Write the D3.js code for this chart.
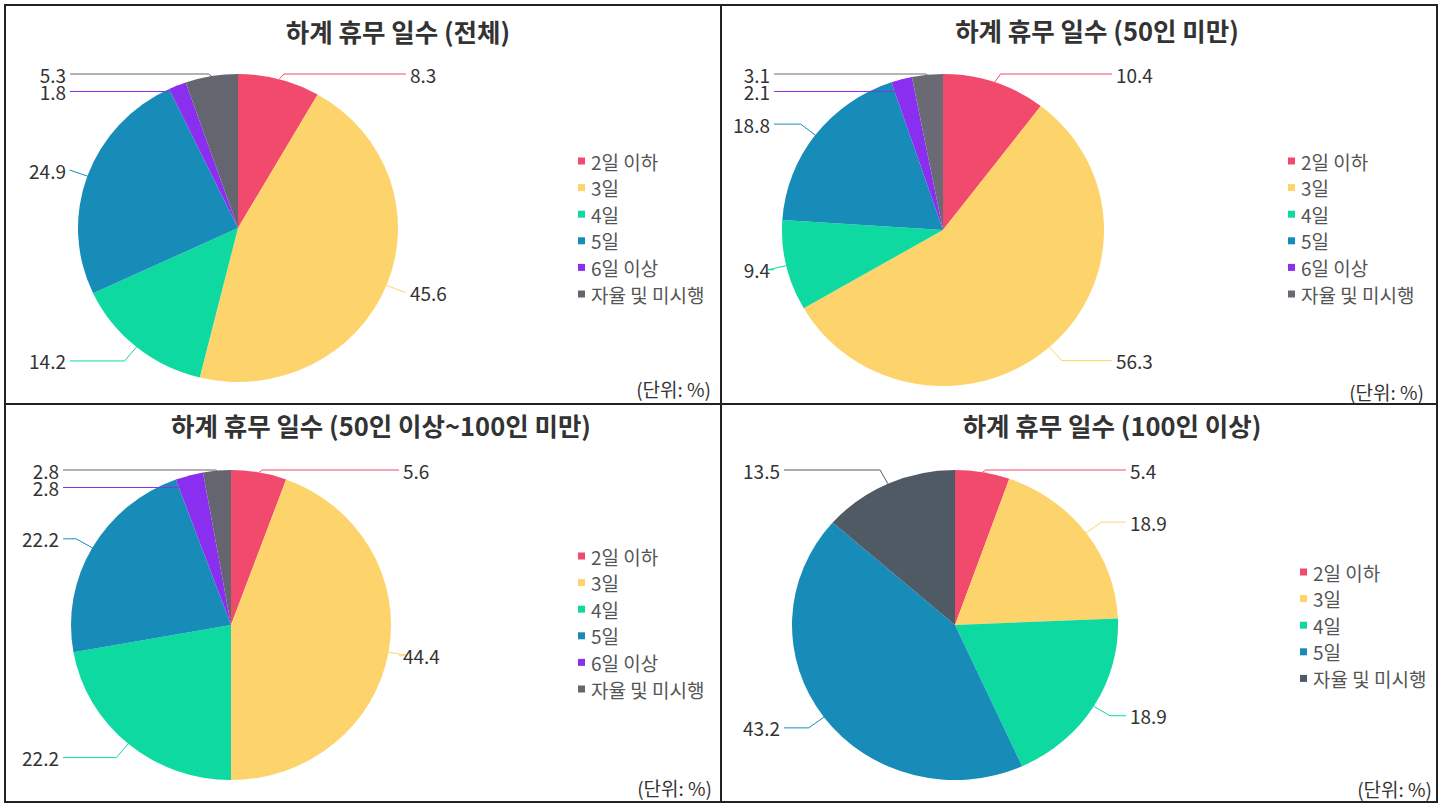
<!DOCTYPE html>
<html><head><meta charset="utf-8">
<script src="https://cdn.jsdelivr.net/npm/d3@7"></script>
<style>body{margin:0;background:#fff} svg{display:block}</style>
</head><body>
<svg id="chart" width="1447" height="804"></svg>
<script>
// ---------- data ----------
const categories = ["2일 이하", "3일", "4일", "5일", "6일 이상", "자율 및 미시행"];
const groupNames = ["전체", "50인 미만", "50인 이상~100인 미만", "100인 이상"];
const valuesTotal    = [8.3, 45.6, 14.2, 24.9, 1.8, 5.3];
const valuesUnder50  = [10.4, 56.3, 9.4, 18.8, 2.1, 3.1];
const values50to100  = [5.6, 44.4, 22.2, 22.2, 2.8, 2.8];
const valuesOver100  = [5.4, 18.9, 18.9, 43.2, null, 13.5];
const unitText = "(단위: %)";
const titlePrefix = "하계 휴무 일수";

// ---------- styles / layout ----------
const baseColors = ["#F24A6D", "#FDD46B", "#0DD9A1", "#178CB8", "#8A2EF0", "#65656F"];
const panelLayout = [
  {cx:238, cy:228, rx:160, ry:154, titleX:398,  titleY:30,  legendX:578,  legendY:161, unitX:711,  unitY:388, lastColor:"#65656F"},
  {cx:943, cy:230, rx:161, ry:156, titleX:1097, titleY:29,  legendX:1288, legendY:161, unitX:1424, unitY:391, lastColor:"#6A6A74"},
  {cx:231, cy:625, rx:160, ry:155, titleX:381,  titleY:424, legendX:578,  legendY:556, unitX:712,  unitY:787, lastColor:"#65656F"},
  {cx:955, cy:625, rx:163, ry:155, titleX:1112, titleY:424, legendX:1300, legendY:572, unitX:1432, unitY:788, lastColor:"#505A65"}
];
const allValues = [valuesTotal, valuesUnder50, values50to100, valuesOver100];
const FONT = "'Noto Sans CJK KR', 'Noto Sans', sans-serif";

const svg = d3.select("#chart");

// frame
const frame = svg.append("g").attr("fill", "none").attr("stroke", "#222").attr("stroke-width", 2);
frame.append("rect").attr("x", 5).attr("y", 5).attr("width", 1432).attr("height", 797);
frame.append("line").attr("x1", 721).attr("x2", 721).attr("y1", 5).attr("y2", 802);
frame.append("line").attr("x1", 5).attr("x2", 1437).attr("y1", 404).attr("y2", 404);

const pie = d3.pie().sort(null).value(d => d.value);

allValues.forEach((vals, pi) => {
  const L = panelLayout[pi];
  const colors = baseColors.map((c, i) => i === 5 ? L.lastColor : c);
  const color = d3.scaleOrdinal().domain(categories).range(colors);
  const data = categories.map((c, i) => ({cat: c, value: vals[i]})).filter(d => d.value != null);
  const arcs = pie(data);
  const r = L.ry, sx = L.rx / L.ry;
  const arc = d3.arc().innerRadius(0).outerRadius(r);

  const g = svg.append("g").attr("transform", `translate(${L.cx},${L.cy})`);

  // title
  svg.append("text").attr("x", L.titleX).attr("y", L.titleY)
    .attr("text-anchor", "middle").attr("dominant-baseline", "central")
    .attr("font-family", FONT).attr("font-size", 25.5).attr("font-weight", 700)
    .attr("fill", "#333").text(`${titlePrefix} (${groupNames[pi]})`);

  // slices (slightly elliptical like the reference)
  g.append("g").attr("transform", `scale(${sx},1)`)
    .selectAll("path").data(arcs).join("path")
    .attr("d", arc).attr("fill", d => color(d.data.cat));

  // label layout
  const len1 = 18, gap = 17.5;
  const items = arcs.map(a => {
    const m = (a.startAngle + a.endAngle) / 2;
    const s = Math.sin(m), c = Math.cos(m);
    return {
      a, side: s >= 0 ? 1 : -1,
      p0: [sx * r * s, -r * c],
      p1: [sx * (r + len1) * s, -(r + len1) * c],
    };
  });
  [1, -1].forEach(side => {
    const list = items.filter(d => d.side === side).sort((u, v) => u.p1[1] - v.p1[1]);
    let prev = -Infinity;
    list.forEach(d => {
      let y = Math.max(d.p1[1], -r);
      y = Math.max(y, prev + gap);
      d.ly = y; prev = y;
    });
  });
  items.forEach(d => {
    const lx = d.side * (L.rx + 12);
    const ex = d.side * (L.rx + 8);
    const col = color(d.a.data.cat);
    g.append("polyline")
      .attr("points", [d.p0, [d.p1[0], d.ly], [ex, d.ly]].map(p => p.join(",")).join(" "))
      .attr("fill", "none").attr("stroke", col).attr("stroke-width", 1);
    g.append("text").attr("x", lx).attr("y", d.ly)
      .attr("text-anchor", d.side > 0 ? "start" : "end").attr("dominant-baseline", "central")
      .attr("font-family", FONT).attr("font-size", 19).attr("fill", "#333")
      .text(d.a.data.value.toFixed(1));
  });

  // legend
  const lg = svg.append("g").attr("transform", `translate(${L.legendX},${L.legendY})`);
  const rows = lg.selectAll("g").data(data).join("g").attr("transform", (d, i) => `translate(0,${i * 26.6})`);
  rows.append("rect").attr("x", 0).attr("y", -3.5).attr("width", 7).attr("height", 7).attr("fill", d => color(d.cat));
  rows.append("text").attr("x", 13).attr("y", 0).attr("dominant-baseline", "central")
    .attr("font-family", FONT).attr("font-size", 19).attr("fill", "#555").text(d => d.cat);

  // unit
  svg.append("text").attr("x", L.unitX).attr("y", L.unitY).attr("text-anchor", "end")
    .attr("dominant-baseline", "central").attr("font-family", FONT).attr("font-size", 19)
    .attr("fill", "#333").text(unitText);
});
</script>
</body></html>
